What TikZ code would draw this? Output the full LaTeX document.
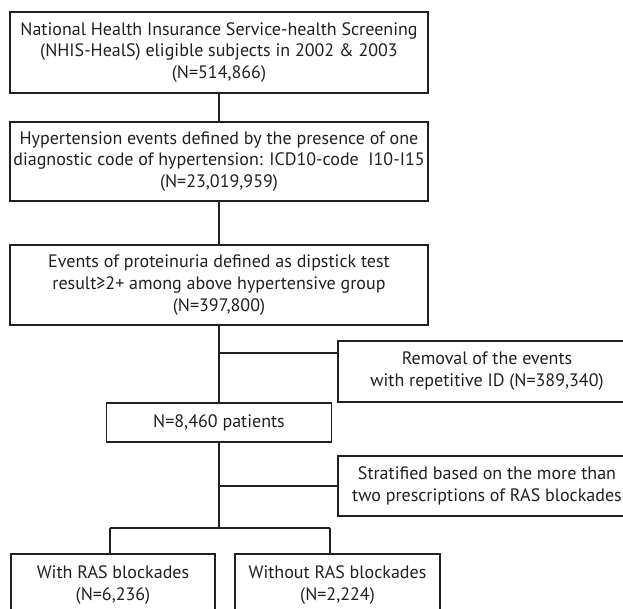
\documentclass[tikz,border=0pt]{standalone}
\usepackage{fontspec}
\setmainfont{PT Sans}
\definecolor{ink}{HTML}{231F20}
\begin{document}
\begin{tikzpicture}[x=1pt,y=-1pt,
  box/.style={draw=ink,line width=1.5pt,text=ink,align=center,inner sep=0pt,
    font=\fontsize{18}{21.8}\selectfont},
  conn/.style={draw=ink,line width=1.5pt}]
\useasboundingbox (0,0) rectangle (623,609);
\clip (0,0) rectangle (623,609);
\node[box,minimum width=418pt,minimum height=81pt] (b1) at (219,52.5)
  {National Health Insurance Service-health Screening\\(NHIS-HealS) eligible subjects in 2002 \& 2003\\(N=514,866)};
\node[box,minimum width=418pt,minimum height=79pt] (b2) at (219,161.5)
  {Hypertension events defined by the presence of one\\diagnostic code of hypertension: ICD10-code\ \ I10-I15\\(N=23,019,959)};
\node[box,minimum width=418pt,minimum height=80pt] (b3) at (219,285)
  {Events of proteinuria defined as dipstick test\\result≥2+ among above hypertensive group\\(N=397,800)};
\node[box,minimum width=298pt,minimum height=61pt] (rem) at (487,371.5)
  {Removal of the events\\with repetitive ID (N=389,340)};
\node[box,minimum width=225pt,minimum height=39pt] (n) at (219,422.5)
  {N=8,460 patients};
\node[box,minimum width=298pt,minimum height=60pt] (strat) at (487,486)
  {Stratified based on the more than\\two prescriptions of RAS blockades};
\node[box,minimum width=204pt,minimum height=62pt] (with) at (113,585)
  {With RAS blockades\\(N=6,236)};
\node[box,minimum width=205pt,minimum height=62pt] (without) at (337.5,585)
  {Without RAS blockades\\(N=2,224)};
\coordinate (j1) at (219,353);
\coordinate (sp) at (219,528);
\coordinate (dl) at (110,528);
\coordinate (dr) at (330,528);
\draw[conn] (b1.south) -- (b2.north);
\draw[conn] (b2.south) -- (b3.north);
\draw[conn] (b3.south) -- (n.north);
\draw[conn] (j1) -- (j1 -| rem.west);
\draw[conn] (n.south) -- (sp);
\draw[conn] (n.south |- strat.west) -- (strat.west);
\draw[conn] (dl) -- (dr);
\draw[conn] (dl) -- (dl |- with.north);
\draw[conn] (dr) -- (dr |- without.north);
\end{tikzpicture}
\end{document}
